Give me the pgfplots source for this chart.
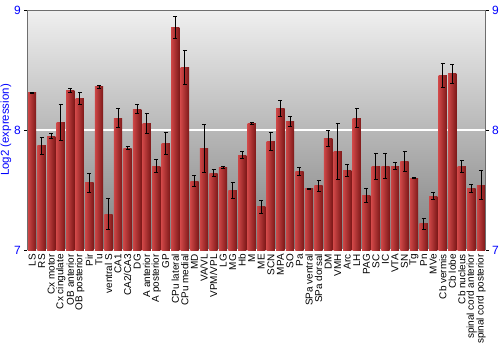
\documentclass[border=0pt]{standalone}
\usepackage{fontspec}
\setmainfont{Liberation Sans}
\usepackage{pgfplots}
\pgfplotsset{compat=1.18}
\usepackage{pgfplotstable}
\definecolor{tickblue}{RGB}{0,0,255}
\definecolor{barL}{RGB}{205,70,70}
\definecolor{barR}{RGB}{125,24,24}
\definecolor{framegray}{RGB}{110,110,110}

\pgfplotstableread{
x y e
0 8.31 0.005
1 7.87 0.07
2 7.95 0.02
3 8.06 0.15
4 8.33 0.02
5 8.26 0.05
6 7.56 0.08
7 8.36 0.01
8 7.30 0.13
9 8.10 0.08
10 7.85 0.01
11 8.175 0.035
12 8.055 0.08
13 7.70 0.055
14 7.89 0.09
15 8.856 0.09
16 8.52 0.14
17 7.575 0.047
18 7.85 0.20
19 7.64 0.03
20 7.69 0.01
21 7.50 0.067
22 7.79 0.03
23 8.055 0.01
24 7.36 0.055
25 7.905 0.075
26 8.18 0.067
27 8.07 0.04
28 7.655 0.035
29 7.51 0.005
30 7.535 0.045
31 7.93 0.064
32 7.82 0.235
33 7.66 0.05
34 8.10 0.08
35 7.455 0.06
36 7.695 0.108
37 7.70 0.103
38 7.70 0.027
39 7.74 0.085
40 7.60 0.005
41 7.217 0.045
42 7.45 0.03
43 8.455 0.10
44 8.467 0.08
45 7.695 0.048
46 7.514 0.033
47 7.54 0.12
}\data

\begin{document}
\begin{tikzpicture}
\path[use as bounding box] (-27.3bp,-100bp) rectangle (472.7bp,250bp);
\begin{axis}[
  at={(0,0)}, anchor=south west,
  scale only axis, width=458.4bp, height=240bp,
  xmin=-0.5, xmax=47.5, ymin=7, ymax=9,
  ytick={7,8,9},
  xtick={0,...,47},
  xticklabels={LS,RS,Cx motor,Cx cingulate,OB anterior,OB posterior,Pir,Tu,ventral S,CA1,CA2/CA3,DG,A anterior,A posterior,GP,CPu lateral,CPu medial,MD,VA/VL,VPM/VPL,LG,MG,Hb,M,ME,SCN,MPA,SO,Pa,SPa ventral,SPa dorsal,DM,VMH,Arc,LH,PAG,SC,IC,VTA,SN,Tg,Pn,MVe,Cb vermis,Cb lobe,Cb nucleus,spinal cord anterior,spinal cord posterior},
  axis line style={draw=none},
  tick align=outside,
  major tick length=3bp,
  ytick style={draw=black, line width=0.6bp},
  xtick style={draw=none},
  ytick pos=left,
  ymajorgrids,
  grid style={white, line width=1.2bp},
  axis background/.style={top color=black!6, bottom color=black!50},
  /pgf/number format/assume math mode=true,
  yticklabel style={font=\fontsize{12}{12}\selectfont, text=tickblue},
  ylabel={Log2 (expression)},
  ylabel shift={-4bp},
  ylabel style={font=\fontsize{11.5}{11.5}\selectfont, text=tickblue},
  xticklabel style={rotate=90, anchor=east, font=\fontsize{10}{10}\selectfont, inner sep=1bp},
  clip mode=individual,
]
\pgfplotsinvokeforeach{0,...,47}{
  \addplot[forget plot, ybar, bar width=8.3bp, bar shift=0pt, draw=none,
    left color=barL, right color=barR,
    restrict expr to domain={\thisrow{x}}{#1:#1}]
    table[x=x, y=y]{\data};
}
\addplot[forget plot, draw=none, mark=none,
  error bars/.cd, y dir=both, y explicit, error mark=|,
  error bar style={draw=black, line width=0.8bp},
  error mark options={draw=black, mark size=2bp, line width=0.8bp}]
  table[x=x, y=y, y error=e]{\data};
\draw[framegray, line width=0.8bp] (rel axis cs:0,0) -- (rel axis cs:0,1) -- (rel axis cs:1,1) -- (rel axis cs:1,0);
\end{axis}
\begin{axis}[
  at={(0,0)}, anchor=south west,
  scale only axis, width=458.4bp, height=240bp,
  xmin=-0.5, xmax=47.5, ymin=7, ymax=9,
  ytick={7,8,9},
  hide x axis,
  axis y line*=right,
  axis line style={draw=none},
  tick align=outside,
  major tick length=3bp,
  ytick style={draw=black, line width=0.6bp},
  /pgf/number format/assume math mode=true,
  yticklabel style={font=\fontsize{12}{12}\selectfont, text=tickblue},
]
\end{axis}
\end{tikzpicture}
\end{document}
